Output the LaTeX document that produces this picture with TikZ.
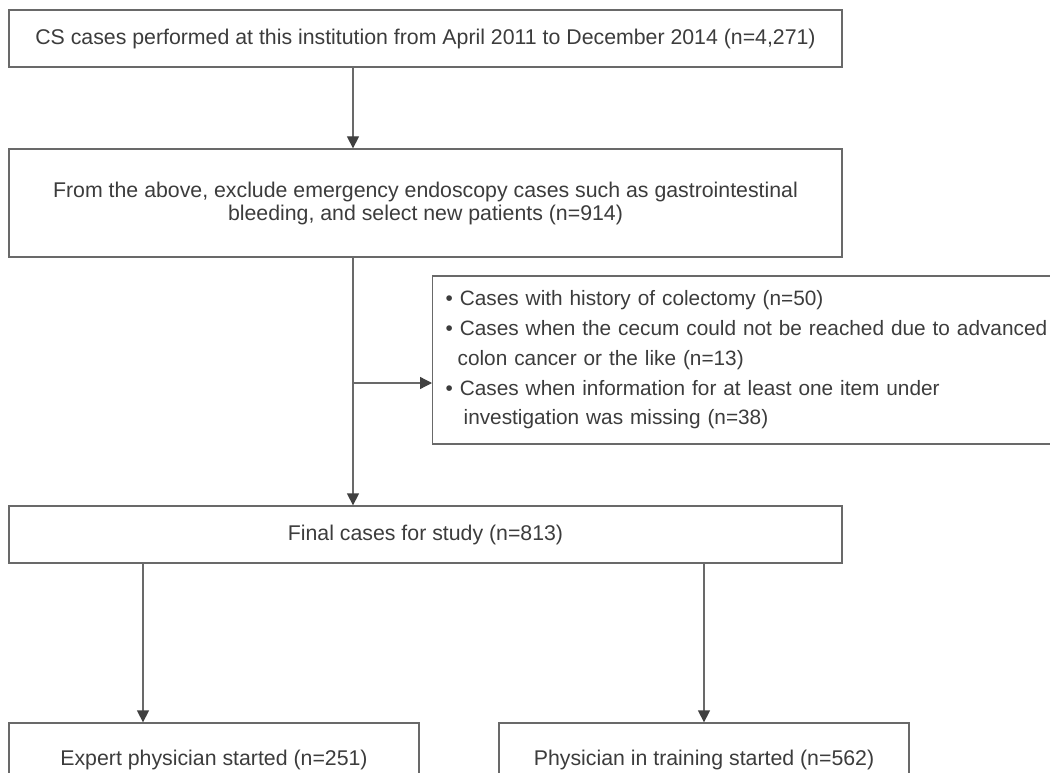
\documentclass[tikz,border=0pt]{standalone}
\usepackage{fontspec}
\setmainfont{Liberation Sans}
\usetikzlibrary{arrows.meta}
\definecolor{linegray}{RGB}{105,105,105}
\definecolor{txtgray}{RGB}{60,60,60}
\definecolor{headgray}{RGB}{64,64,64}
\hyphenpenalty=10000\relax
\exhyphenpenalty=10000\relax
\begin{document}
\begin{tikzpicture}[x=1pt,y=-1pt,
  box/.style={draw=linegray, line width=1.3pt, rectangle, inner sep=0pt, text=txtgray,
    font=\fontsize{21.3}{23}\selectfont, align=center},
  sidebox/.style={box, align=left, anchor=west, inner xsep=13pt, text width=640pt,
    font=\fontsize{20.8}{29.7}\selectfont},
  conn/.style={draw=linegray, line width=1.3pt},
  arr/.style={conn, -{Triangle[length=12pt,width=12pt,color=headgray]}}]
\useasboundingbox (0,0) rectangle (1050,773);
\clip (0,0) rectangle (1050,773);
\fill[white] (0,0) rectangle (1050,773);

\node[box, minimum width=833pt, minimum height=57pt] (b1) at (425.5,38.5)
  {CS cases performed at this institution from April 2011 to December 2014 (n=4,271)};
\node[box, minimum width=833pt, minimum height=108pt] (b2) at (425.5,203)
  {From the above, exclude emergency endoscopy cases such as gastrointestinal\\bleeding, and select new patients (n=914)};
\node[sidebox, minimum height=168pt] (side) at (432,360)
  {• Cases with history of colectomy (n=50)\\
   • Cases when the cecum could not be reached due to advanced\\
   \hspace*{12pt}colon cancer or the like (n=13)\\
   • Cases when information for at least one item under\\
   \hspace*{18pt}investigation was missing (n=38)};
\node[box, minimum width=833pt, minimum height=57pt] (b3) at (425.5,534.5)
  {Final cases for study (n=813)};
\node[box, minimum width=410pt, minimum height=74pt] (b4) at (214,760)
  {Expert physician started (n=251)};
\node[box, minimum width=410pt, minimum height=74pt] (b5) at (704,760)
  {Physician in training started (n=562)};

\coordinate (cm) at (353,0);
\coordinate (cl) at (143,0);
\coordinate (cr) at (704,0);
\coordinate (br) at (353,383);

\draw[arr] (b1.south -| cm) -- (b2.north -| cm);
\draw[arr] (b2.south -| cm) -- (b3.north -| cm);
\draw[arr] (br) -- (side.west |- br);
\draw[arr] (b3.south -| cl) -- (b4.north -| cl);
\draw[arr] (b3.south -| cr) -- (b5.north -| cr);
\end{tikzpicture}
\end{document}
